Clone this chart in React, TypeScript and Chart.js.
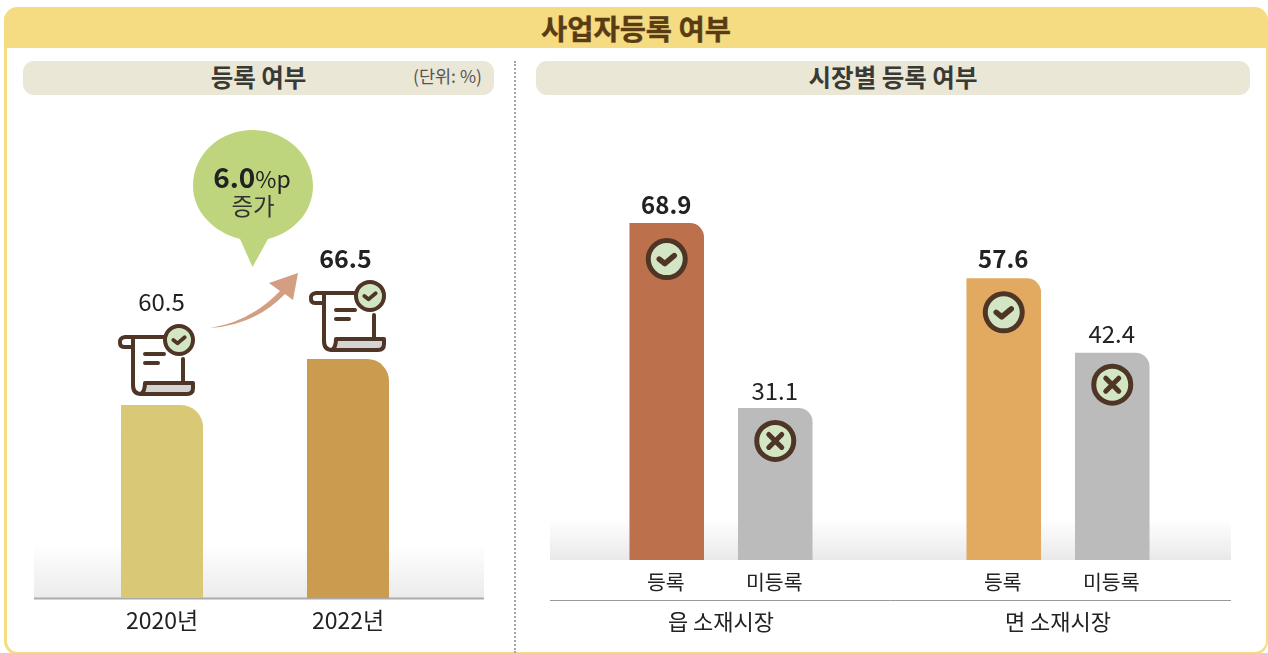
import React, { useEffect, useRef } from "react";
import { Chart, registerables } from "chart.js";

Chart.register(...registerables);

const FONT = '"Noto Sans CJK KR", "Noto Sans", sans-serif';

const yearLabels = ["2020년", "2022년"];
const yearValues = [60.5, 66.5];
const yearColors = ["#d9c976", "#cb9b50"];

const marketLabels = ["읍 소재시장", "면 소재시장"];
const registeredValues = [68.9, 57.6];
const unregisteredValues = [31.1, 42.4];
const registeredColors = ["#bd704c", "#e2a961"];
const unregisteredColors = ["#bbbbbb", "#bbbbbb"];
const registeredName = "등록";
const unregisteredName = "미등록";

const BROWN = "#4e3526";
const MINT = "#d3e6c4";

function badge(ctx: CanvasRenderingContext2D, x: number, y: number, r: number, lw: number, kind: "check" | "cross", mark: number) {
  ctx.save();
  ctx.beginPath();
  ctx.arc(x, y, r, 0, Math.PI * 2);
  ctx.fillStyle = MINT;
  ctx.fill();
  ctx.lineWidth = lw;
  ctx.strokeStyle = BROWN;
  ctx.stroke();
  ctx.lineWidth = mark;
  ctx.lineCap = "round";
  ctx.lineJoin = "round";
  const s = r / 18.5;
  ctx.beginPath();
  if (kind === "check") {
    ctx.moveTo(x - 7.5 * s, y);
    ctx.lineTo(x - 2 * s, y + 4.5 * s);
    ctx.lineTo(x + 7.5 * s, y - 3.5 * s);
  } else {
    ctx.moveTo(x - 6.5 * s, y - 6.5 * s);
    ctx.lineTo(x + 6.5 * s, y + 6.5 * s);
    ctx.moveTo(x + 6.5 * s, y - 6.5 * s);
    ctx.lineTo(x - 6.5 * s, y + 6.5 * s);
  }
  ctx.stroke();
  ctx.restore();
}

function scroll(ctx: CanvasRenderingContext2D, ox: number, oy: number) {
  ctx.save();
  ctx.translate(ox, oy);
  ctx.strokeStyle = BROWN;
  ctx.lineWidth = 4;
  ctx.lineCap = "round";
  ctx.lineJoin = "round";
  // paper tray
  ctx.fillStyle = "#d4d4d4";
  ctx.beginPath();
  ctx.moveTo(27, 58);
  ctx.lineTo(75, 58);
  ctx.lineTo(75, 63);
  ctx.quadraticCurveTo(75, 69, 69, 69);
  ctx.lineTo(23, 69);
  ctx.quadraticCurveTo(27, 66, 27, 58);
  ctx.closePath();
  ctx.fill();
  ctx.stroke();
  // scroll body
  ctx.beginPath();
  ctx.moveTo(46, 12);
  ctx.lineTo(7, 12);
  ctx.quadraticCurveTo(1, 13, 2, 18);
  ctx.quadraticCurveTo(2, 22, 7, 22);
  ctx.lineTo(15, 22);
  ctx.moveTo(15, 13);
  ctx.lineTo(15, 60);
  ctx.quadraticCurveTo(15, 69, 23, 69);
  ctx.moveTo(65, 34);
  ctx.lineTo(65, 58);
  ctx.moveTo(27, 29);
  ctx.lineTo(46, 29);
  ctx.moveTo(27, 38);
  ctx.lineTo(40, 38);
  ctx.stroke();
  ctx.restore();
  badge(ctx, ox + 61, oy + 15, 14, 4, "check", 3.8);
}

const band = (ctx: CanvasRenderingContext2D, left: number, right: number, top: number, bottom: number, end: string) => {
  const g = ctx.createLinearGradient(0, top, 0, bottom);
  g.addColorStop(0, "rgba(235,235,236,0)");
  g.addColorStop(1, end);
  ctx.fillStyle = g;
  ctx.fillRect(left, top, right - left, bottom - top);
};

const yearPlugin = {
  id: "yearDecor",
  beforeDatasetsDraw(chart: any) {
    const { ctx, scales } = chart;
    const base = scales.y.getPixelForValue(scales.y.min);
    band(ctx, 4, 454, base - 54, base, "#ebebec");
    ctx.strokeStyle = "#ababab";
    ctx.lineWidth = 2;
    ctx.beginPath();
    ctx.moveTo(4, base + 0.5);
    ctx.lineTo(454, base + 0.5);
    ctx.stroke();
  },
  afterDatasetsDraw(chart: any) {
    const { ctx } = chart;
    const bars = chart.getDatasetMeta(0).data;
    const iconDx = [-44, -39];
    const iconDy = [-80, -78];
    const labelDy = [-103, -100];
    bars.forEach((bar: any, i: number) => {
      scroll(ctx, bar.x + iconDx[i], bar.y + iconDy[i]);
      ctx.font = `${i === 1 ? 700 : 400} ${i === 1 ? 25 : 24}px ${FONT}`;
      ctx.fillStyle = "#222";
      ctx.textAlign = "center";
      ctx.textBaseline = "middle";
      ctx.fillText(yearValues[i].toFixed(1), bar.x - (i === 1 ? 2.5 : 0.5), bar.y + labelDy[i]);
    });
  },
};

const marketPlugin = {
  id: "marketDecor",
  beforeDatasetsDraw(chart: any) {
    const { ctx, scales } = chart;
    const base = scales.y.getPixelForValue(0);
    band(ctx, 5, 686, base - 42, base, "#e9e9ea");
    ctx.strokeStyle = "#999";
    ctx.lineWidth = 1;
    ctx.beginPath();
    ctx.moveTo(5, base + 40.5);
    ctx.lineTo(686, base + 40.5);
    ctx.stroke();
  },
  afterDatasetsDraw(chart: any) {
    const { ctx, scales } = chart;
    const base = scales.y.getPixelForValue(0);
    const iconDy = [36, 34, 33, 32];
    const labelDy = [-18, -19, -17, -18.5];
    [0, 1].forEach((d) => {
      const bars = chart.getDatasetMeta(d).data;
      const values = d === 0 ? registeredValues : unregisteredValues;
      bars.forEach((bar: any, i: number) => {
        badge(ctx, bar.x, bar.y + iconDy[d * 2 + i], 18.5, 5, d === 0 ? "check" : "cross", d === 0 ? 5.5 : 5);
        ctx.font = `${d === 0 ? 700 : 400} 24px ${FONT}`;
        ctx.fillStyle = "#222";
        ctx.textAlign = "center";
        ctx.textBaseline = "middle";
        ctx.fillText(values[i].toFixed(1), bar.x - 0.5, bar.y + labelDy[d * 2 + i]);
        ctx.font = `400 20.5px ${FONT}`;
        ctx.fillText(d === 0 ? registeredName : unregisteredName, bar.x - 1, base + 22);
      });
    });
  },
};

function YearChart() {
  const ref = useRef<HTMLCanvasElement>(null);
  useEffect(() => {
    const chart = new Chart(ref.current!, {
      type: "bar",
      data: {
        labels: yearLabels,
        datasets: [
          {
            data: yearValues,
            backgroundColor: yearColors,
            borderRadius: { topLeft: 0, topRight: 22, bottomLeft: 0, bottomRight: 0 },
            borderSkipped: false,
            barPercentage: 0.441,
            categoryPercentage: 1,
          },
        ],
      },
      options: {
        responsive: false,
        animation: false,
        layout: { padding: { left: 39, right: 49, top: 0, bottom: 0 } },
        plugins: { legend: { display: false }, tooltip: { enabled: false } },
        scales: {
          x: {
            grid: { display: false },
            border: { display: false },
            afterFit: (s: any) => {
              s.height = 53;
            },
            ticks: { padding: 0, color: "#222", font: { family: FONT, size: 23 } },
          },
          y: { display: false, min: 35.33, max: 100.26 },
        },
      },
      plugins: [yearPlugin],
    } as any);
    return () => chart.destroy();
  }, []);
  return <canvas ref={ref} width={460} height={551} style={{ position: "absolute", left: 30, top: 100 }} />;
}

function MarketChart() {
  const ref = useRef<HTMLCanvasElement>(null);
  useEffect(() => {
    const common = { borderSkipped: false, barPercentage: 0.687, categoryPercentage: 0.644, borderRadius: { topLeft: 0, topRight: 14, bottomLeft: 0, bottomRight: 0 } };
    const chart = new Chart(ref.current!, {
      type: "bar",
      data: {
        labels: marketLabels,
        datasets: [
          { label: registeredName, data: registeredValues, backgroundColor: registeredColors, ...common },
          { label: unregisteredName, data: unregisteredValues, backgroundColor: unregisteredColors, ...common },
        ],
      },
      options: {
        responsive: false,
        animation: false,
        layout: { padding: { left: 7.5, right: 8.5, top: 0, bottom: 0 } },
        plugins: { legend: { display: false }, tooltip: { enabled: false } },
        scales: {
          x: {
            grid: { display: false },
            border: { display: false },
            afterFit: (s: any) => {
              s.height = 91;
            },
            ticks: { padding: 40, color: "#222", font: { family: FONT, size: 22 } },
          },
          y: { display: false, min: 0, max: 94.07 },
        },
      },
      plugins: [marketPlugin],
    } as any);
    return () => chart.destroy();
  }, []);
  return <canvas ref={ref} width={690} height={551} style={{ position: "absolute", left: 545, top: 100 }} />;
}

const pill: React.CSSProperties = {
  position: "absolute",
  top: 61,
  height: 34,
  background: "#ebe7d7",
  borderRadius: 11,
  fontWeight: 700,
  fontSize: 24.5,
  lineHeight: "32px",
  textAlign: "center",
  color: "#3a3a35",
  whiteSpace: "nowrap",
};

export default function App() {
  useEffect(() => {
    document.body.style.margin = "0";
  }, []);
  return (
    <div style={{ position: "relative", width: 1268, height: 653, overflow: "hidden", background: "#fff", fontFamily: FONT }}>
      <div
        style={{
          position: "absolute",
          left: 4,
          top: 7,
          width: 1264,
          height: 648,
          boxSizing: "border-box",
          borderStyle: "solid",
          borderColor: "#f5dd84",
          borderWidth: "0 2px 3px 3px",
          borderRadius: 14,
        }}
      />
      <div
        style={{
          position: "absolute",
          left: 4,
          top: 7,
          width: 1264,
          height: 41,
          background: "#f5dc82",
          borderRadius: "14px 14px 0 0",
          textAlign: "center",
          fontWeight: 700,
          fontSize: 28.5,
          lineHeight: "42px",
          color: "#5a3c14",
          WebkitTextStroke: "0.4px #5a3c14",
        }}
      >
        사업자등록 여부
      </div>
      <div style={{ ...pill, left: 23, width: 471 }}>
        등록 여부
        <span style={{ position: "absolute", left: 390, top: -1, fontWeight: 400, fontSize: 17.5, color: "#555" }}>(단위: %)</span>
      </div>
      <div style={{ ...pill, left: 536, width: 714 }}>시장별 등록 여부</div>
      <div style={{ position: "absolute", left: 514, top: 61, height: 592, borderLeft: "2px dotted #a5a5a5" }} />
      <YearChart />
      <MarketChart />
      <svg width={1268} height={653} style={{ position: "absolute", left: 0, top: 0, pointerEvents: "none" }}>
        <path d="M252.5 130 C286 130 313 155 313 186 C313 211 295 232 268 239 L252.5 267 L240 239 C213 232 193 211 193 186 C193 155 219 130 252.5 130 Z" fill="#bfd57d" />
        <path d="M210 328 Q250 322 280 291 L269 283 L298 273 L293 300 L285 294 Q255 325 210 328 Z" fill="#d39e81" />
      </svg>
      <div style={{ position: "absolute", left: 192, top: 158, width: 120, textAlign: "center", color: "#222", lineHeight: "36px", whiteSpace: "nowrap" }}>
        <span style={{ fontWeight: 700, fontSize: 28 }}>6.0</span>
        <span style={{ fontSize: 23 }}>%p</span>
      </div>
      <div style={{ position: "absolute", left: 193, top: 188, width: 120, textAlign: "center", color: "#333", fontSize: 23.5, lineHeight: "34px" }}>증가</div>
    </div>
  );
}
